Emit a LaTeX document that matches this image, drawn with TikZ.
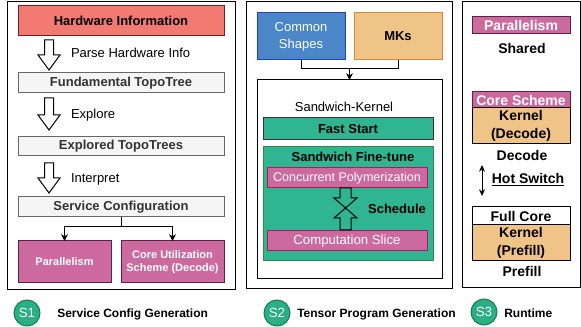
\documentclass[tikz,border=0pt]{standalone}
\usepackage{fontspec}
\setmainfont{Liberation Sans}
\usetikzlibrary{arrows.meta}
\definecolor{hwred}{HTML}{F27A72}
\definecolor{hwdraw}{HTML}{6E2020}
\definecolor{grayfill}{HTML}{F5F5F5}
\definecolor{graydraw}{HTML}{666666}
\definecolor{graytext}{HTML}{333333}
\definecolor{pinkc}{HTML}{CC6A9F}
\definecolor{pinkdraw}{HTML}{5A2345}
\definecolor{crimson}{HTML}{B3175E}
\definecolor{tealc}{HTML}{2FB592}
\definecolor{greendraw}{HTML}{2E8B3E}
\definecolor{bluec}{HTML}{4A86C8}
\definecolor{bluedraw}{HTML}{1F3FC0}
\definecolor{orangec}{HTML}{F0C387}
\definecolor{orangedraw}{HTML}{D68A2D}
\definecolor{circfill}{HTML}{2AAE85}
\definecolor{circdraw}{HTML}{1B7F45}
\newcommand\fpt[2]{\fontsize{#1}{#2}\selectfont}
\newcommand\hdown[3]{\draw[hollow] (#1-4.5,#2) -- (#1+4.5,#2) -- (#1+4.5,#3-15) -- (#1+11,#3-15) -- (#1,#3) -- (#1-11,#3-15) -- (#1-4.5,#3-15) -- cycle;}
% box from corner (x1,y1) to (x2,y2), in pixel units
\newcommand\bx[7]{\node[#1, minimum width={(#5-#3)*0.75pt}, minimum height={(#6-#4)*0.75pt}] (#2) at ({(#3+#5)/2},{(#4+#6)/2}) {#7};}
\begin{document}
\begin{tikzpicture}[x=0.75pt,y=-0.75pt,
  box/.style={draw, inner sep=0pt, outer sep=0pt, line width=0.75pt, align=center},
  panel/.style={draw, inner sep=0pt, outer sep=0pt, line width=0.75pt},
  graybox/.style={box, fill=grayfill, draw=graydraw, text=graytext, font=\bfseries\fpt{9.75}{11}},
  pinkbox/.style={box, fill=pinkc, draw=pinkdraw, text=white, font=\bfseries\fpt{8.25}{9.4}},
  slicebox/.style={box, fill=pinkc, draw=crimson, text=white, font=\fpt{9.4}{11}},
  kernbox/.style={box, fill=orangec, draw=black, font=\bfseries\fpt{10.5}{13.5}},
  plain/.style={inner sep=0pt, outer sep=0pt, font=\fpt{9.75}{11}},
  bold3/.style={inner sep=0pt, outer sep=0pt, font=\bfseries\fpt{10.5}{12}},
  conn/.style={line width=0.75pt, -{Stealth[length=5pt,width=5pt,inset=1.5pt]}},
  hollow/.style={draw=black, fill=white, line width=0.75pt, line join=miter},
  openarrow/.style={draw=black, line width=0.75pt, line join=miter},
  stepc/.style={circle, draw=circdraw, fill=circfill, line width=0.75pt, minimum size=26*0.75pt, inner sep=0pt, text=white, font=\fpt{10}{11}},
  caption/.style={inner sep=0pt, anchor=west, font=\bfseries\fpt{9}{11}}
]
\useasboundingbox (0,0) rectangle (581,327);

% ---------- panels ----------
\bx{panel}{p1}{7}{2}{235}{290}{}
\bx{panel}{p2}{246}{2}{452}{289}{}
\bx{panel}{p3}{462}{2}{580}{288}{}

% ---------- panel 1 ----------
\bx{box, fill=hwred, draw=hwdraw, font=\bfseries\fpt{9.75}{11}}{hw}{18}{6}{224}{36}{Hardware Information}
\bx{graybox}{fund}{18}{73}{224}{93}{Fundamental TopoTree}
\bx{graybox}{expl}{18}{137}{224}{156}{Explored TopoTrees}
\bx{graybox}{sc}{18}{197}{224}{217}{Service Configuration}
\bx{pinkbox}{par}{18}{241}{111}{283}{Parallelism}
\bx{pinkbox}{cus}{121}{241}{224}{283}{Core Utilization\\Scheme (Decode)}

\hdown{49}{40}{70}
\hdown{49}{98}{130}
\hdown{49}{163}{193}
\node[plain, anchor=west] (l1) at (71,53) {Parse Hardware Info};
\node[plain, anchor=west] (l2) at (71,115) {Explore};
\node[plain, anchor=west] (l3) at (71,179) {Interpret};

\draw[conn] (sc.south) -- ++(0,10) -| (par.north);
\draw[conn] (sc.south) -- ++(0,10) -| (cus.north);

% ---------- panel 2 ----------
\bx{box, fill=bluec, draw=bluedraw, text=white, font=\fpt{9.75}{12.75}}{cs}{257}{13}{345}{60}{Common\\Shapes}
\bx{box, fill=orangec, draw=orangedraw, font=\bfseries\fpt{9.75}{11}}{mk}{354}{13}{442}{60}{MKs}
\bx{box, fill=white}{sk}{257}{80}{442}{279}{}
\draw[line width=0.75pt] (cs.south) -- ++(0,9) -| (sk.north);
\draw[conn] (mk.south) -- ++(0,9) -| (sk.north);
\node[plain] (skt) at (344,107) {Sandwich-Kernel};
\bx{box, fill=tealc, draw=graytext, font=\bfseries\fpt{9.75}{11}}{fs}{263}{118}{433}{140}{Fast Start}
\bx{box, fill=tealc, draw=greendraw}{ft}{263}{147}{433}{261}{}
\node[inner sep=0pt, font=\bfseries\fpt{9.75}{11}] (ftt) at (353,157) {Sandwich Fine-tune};
\bx{slicebox}{cp}{267}{168}{427}{188}{Concurrent Polymerization}
\bx{slicebox, font=\fpt{9.9}{11}}{cmp}{267}{231}{427}{251}{Computation Slice}
% schedule bow-tie (open outlines)
\draw[openarrow] (340,188) -- (351,188) -- (351,198) -- (357,198) -- (345.5,208) -- (334,198) -- (340,198) -- cycle;
\draw[openarrow] (340,230) -- (351,230) -- (351,218) -- (357,218) -- (345.5,208) -- (334,218) -- (340,218) -- cycle;
\node[inner sep=0pt, font=\bfseries\fpt{9.75}{11}] (sch) at (397,209) {Schedule};

% ---------- panel 3 ----------
\bx{box, fill=pinkc, draw=pinkdraw, text=white, font=\bfseries\fpt{10.5}{12}}{par3}{472}{17}{570}{34}{Parallelism}
\node[bold3] (shared) at (522,49) {Shared};
\bx{box, fill=pinkc, draw=pinkdraw, text=white, font=\bfseries\fpt{10.5}{12}}{csch}{472}{92}{570}{108}{Core Scheme}
\bx{kernbox}{kd}{472}{108}{570}{144}{Kernel\\(Decode)}
\node[bold3] (dec) at (522,155) {Decode};
\coordinate (hsTop) at (482,165);
\coordinate (hsBot) at (482,196);
\draw[line width=0.75pt, {Stealth[length=5pt,width=4.5pt]}-{Stealth[length=5pt,width=4.5pt]}] (hsTop) -- (hsBot);
\node[bold3] (hs) at (528,180) {\underline{Hot Switch}};
\bx{box, fill=white, draw=black, font=\bfseries\fpt{10.5}{12}}{fc}{472}{207}{570}{225}{Full Core}
\bx{kernbox}{kp}{472}{225}{570}{261}{Kernel\\(Prefill)}
\node[bold3] (pre) at (522,271) {Prefill};

% ---------- captions ----------
\node[stepc] (s1) at (27,313) {S1};
\node[caption] (c1) at (57,314) {Service Config Generation};
\node[stepc] (s2) at (277,313) {S2};
\node[caption] (c2) at (297,314) {Tensor Program Generation};
\node[stepc] (s3) at (484,312) {S3};
\node[caption] (c3) at (504,313) {Runtime};
\end{tikzpicture}
\end{document}
